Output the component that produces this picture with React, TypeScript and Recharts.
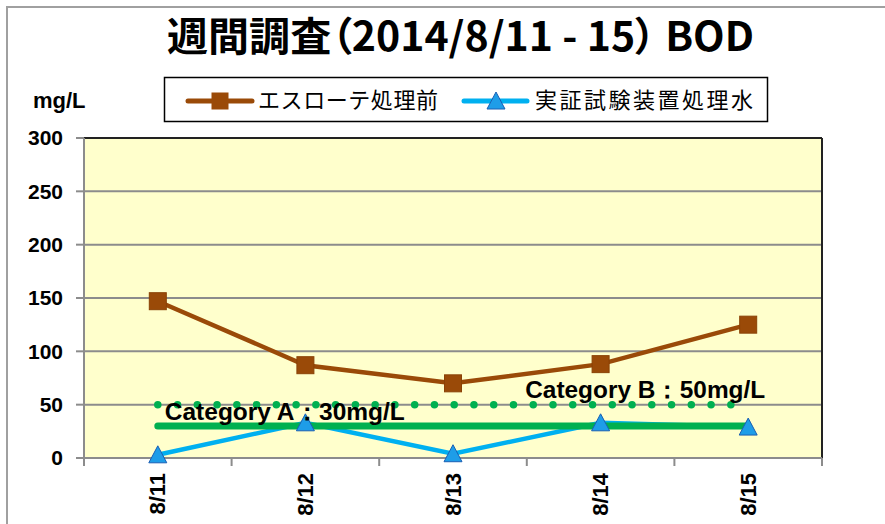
import React from 'react';
import { LineChart, Line, XAxis, YAxis, CartesianGrid, ReferenceLine, LabelList } from 'recharts';

const dates = ['8/11', '8/12', '8/13', '8/14', '8/15'];
const esloteValues = [147, 87, 70, 88, 125];
const treatedValues = [3, 33, 4, 33, 29];
const standardA = [30, 30, 30, 30, 30];
const standardB = [50, 50, 50, 50, 50];
const yTicks = [0, 50, 100, 150, 200, 250, 300];
const boundaryTicks = [0, 1, 2, 3, 4, 5];
const categoryTicks = dates.map((_, i) => i + 0.5);

const TITLE = '週間調査（2014/8/11 - 15） BOD';
const SERIES1 = 'エスローテ処理前';
const SERIES2 = '実証試験装置処理水';
const LABEL_A = 'Category A：30mg/L';
const LABEL_B = 'Category B：50mg/L';
const UNIT = 'mg/L';

const BROWN = '#9A4A08';
const BLUE = '#00B0F0';
const TRI_FILL = '#1E9DE8';
const TRI_STROKE = '#1A5FB4';
const GREEN = '#00B050';
const LATIN = "'Liberation Sans', Arial, sans-serif";
const CJK = "'Noto Sans CJK JP', sans-serif";

const data = dates.map((d, i) => ({
  pos: i + 0.5,
  date: d,
  eslote: esloteValues[i],
  treated: treatedValues[i],
  a: standardA[i],
  b: standardB[i],
}));

const allXTicks = [...boundaryTicks, ...categoryTicks].sort((p, q) => p - q);

const XTick = (props: any) => {
  const { x, y, payload } = props;
  const v = payload.value;
  if (Number.isInteger(v)) {
    return <line x1={x} x2={x} y1={y - 8} y2={y} stroke="#8c8c8c" strokeWidth={2} />;
  }
  const label = dates[Math.floor(v)];
  return (
    <text
      transform={`translate(${x},${y + 7}) rotate(-90)`}
      textAnchor="end"
      dominantBaseline="central"
      fontFamily={LATIN}
      fontWeight={700}
      fontSize={22}
      fill="#000"
    >
      {label}
    </text>
  );
};

const squareDot = (props: any) => {
  const { cx, cy, index } = props;
  return <rect key={`sq-${index}`} x={cx - 8.5} y={cy - 8.5} width={17} height={17} fill={BROWN} stroke="#8a4206" strokeWidth={1} />;
};

const triangleDot = (props: any) => {
  const { cx, cy, index } = props;
  return (
    <polygon
      key={`tr-${index}`}
      points={`${cx},${cy - 9} ${cx - 9},${cy + 8} ${cx + 9},${cy + 8}`}
      fill={TRI_FILL}
      stroke={TRI_STROKE}
      strokeWidth={1}
    />
  );
};

const labelA = (props: any) => {
  const { x, y, index } = props;
  if (index !== 0) return null;
  return (
    <text x={x + 7} y={y - 6} fontFamily={LATIN} fontWeight={700} fontSize={24} fill="#000" textLength={240} lengthAdjust="spacingAndGlyphs">
      {LABEL_A}
    </text>
  );
};

const labelB = (props: any) => {
  const { x, y, index } = props;
  if (index !== dates.length - 1) return null;
  return (
    <text x={x + 17} y={y - 7} textAnchor="end" fontFamily={LATIN} fontWeight={700} fontSize={24} fill="#000" textLength={240} lengthAdjust="spacingAndGlyphs">
      {LABEL_B}
    </text>
  );
};

export default function App() {
  return (
    <div style={{ position: 'absolute', left: 0, top: 0, width: 885, height: 524, overflow: 'hidden', background: '#fff' }}>
      <div style={{ position: 'absolute', left: 6, top: 6, width: 1000, height: 1000, borderLeft: '2px solid #a0a0a0', borderTop: '2px solid #a0a0a0' }} />
      <div style={{ position: 'absolute', left: 0, top: 0 }}>
        <LineChart width={885} height={524} data={data} margin={{ top: 138, right: 63, bottom: 6, left: 0 }}>
          <CartesianGrid vertical={false} stroke="#8c8c8c" strokeWidth={2} fill="#FFFFCC" fillOpacity={1} />
          <XAxis
            dataKey="pos"
            type="number"
            domain={[0, 5]}
            ticks={allXTicks}
            interval={0}
            height={60}
            tickSize={8}
            tickMargin={0}
            tickLine={false}
            axisLine={{ stroke: '#8c8c8c', strokeWidth: 2 }}
            tick={<XTick />}
          />
          <YAxis
            type="number"
            domain={[0, 300]}
            ticks={yTicks}
            interval={0}
            width={84}
            tickSize={8}
            tickMargin={13}
            tickLine={{ stroke: '#8c8c8c', strokeWidth: 2 }}
            axisLine={{ stroke: '#8c8c8c', strokeWidth: 2 }}
            tick={{ fill: '#000', fontSize: 21, fontWeight: 700, fontFamily: LATIN }}
          />
          <ReferenceLine y={300} stroke="#222" strokeWidth={2} />
          <ReferenceLine x={5} stroke="#222" strokeWidth={2} />
          <Line dataKey="eslote" stroke={BROWN} strokeWidth={4.5} dot={squareDot} activeDot={false} isAnimationActive={false} />
          <Line dataKey="treated" stroke={BLUE} strokeWidth={4.5} dot={triangleDot} activeDot={false} isAnimationActive={false} />
          <Line dataKey="b" stroke={GREEN} strokeWidth={7.5} strokeDasharray="0 19.76" strokeLinecap="round" dot={false} activeDot={false} isAnimationActive={false}>
            <LabelList dataKey="b" content={labelB} />
          </Line>
          <Line dataKey="a" stroke={GREEN} strokeWidth={7} strokeLinecap="round" dot={false} activeDot={false} isAnimationActive={false}>
            <LabelList dataKey="a" content={labelA} />
          </Line>
        </LineChart>
      </div>
      <svg width={885} height={524} style={{ position: 'absolute', left: 0, top: 0, pointerEvents: 'none' }}>
        <text
          x={167}
          y={51}
          fontFamily={CJK}
          fontWeight={700}
          fontSize={40}
          fill="#000"
          textLength={587}
          lengthAdjust="spacingAndGlyphs"
          style={{ fontFeatureSettings: '"palt"' }}
        >
          {TITLE}
        </text>
        <text x={33} y={108} fontFamily={LATIN} fontWeight={700} fontSize={22} fill="#000">
          {UNIT}
        </text>
        <rect x={164.5} y={77.5} width={603} height={44} fill="#fff" stroke="#000" strokeWidth={1.5} />
        <line x1={188} x2={252} y1={101} y2={101} stroke={BROWN} strokeWidth={5} strokeLinecap="round" />
        <rect x={211.5} y={92.5} width={17} height={17} fill={BROWN} />
        <text x={258} y={108} fontFamily={CJK} fontSize={22} fill="#000" textLength={180} lengthAdjust="spacing">
          {SERIES1}
        </text>
        <line x1={464} x2={527} y1={101} y2={101} stroke={BLUE} strokeWidth={5} strokeLinecap="round" />
        <polygon points="496,92 487,109 505,109" fill={TRI_FILL} stroke={TRI_STROKE} strokeWidth={1} />
        <text x={535} y={108} fontFamily={CJK} fontSize={22} fill="#000" textLength={218} lengthAdjust="spacing">
          {SERIES2}
        </text>
      </svg>
    </div>
  );
}
